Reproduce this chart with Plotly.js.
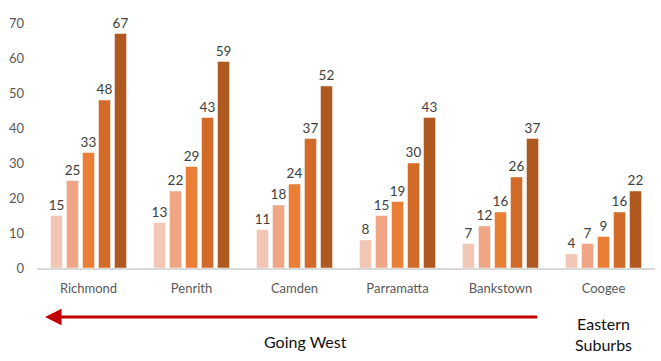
<!DOCTYPE html>
<html>
<head>
<meta charset="utf-8">
<script src="https://cdn.plot.ly/plotly-3.0.1.min.js"></script>
<style>html,body{margin:0;padding:0;background:#fff;}#chart{width:661px;height:361px;}</style>
</head>
<body>
<div id="chart"></div>
<script>
const categories = ["Richmond", "Penrith", "Camden", "Parramatta", "Bankstown", "Coogee"];
const series1 = [15, 13, 11, 8, 7, 4];
const series2 = [25, 22, 18, 15, 12, 7];
const series3 = [33, 29, 24, 19, 16, 9];
const series4 = [48, 43, 37, 30, 26, 16];
const series5 = [67, 59, 52, 43, 37, 22];
const seriesNames = ["Series 1", "Series 2", "Series 3", "Series 4", "Series 5"];
const seriesColors = ["#F2C6B4", "#F0A685", "#EA7E34", "#D26B27", "#AF5920"];
const yTicks = [0, 10, 20, 30, 40, 50, 60, 70];

const allSeries = [series1, series2, series3, series4, series5];
const FONT = "Lato, 'Open Sans', sans-serif";

const traces = allSeries.map((vals, i) => ({
  type: "bar",
  name: seriesNames[i],
  x: categories,
  y: vals,
  marker: { color: seriesColors[i], line: { color: "rgba(255,255,255,0.45)", width: 1 } },
  text: vals.map(String),
  textposition: "outside",
  constraintext: "none",
  cliponaxis: false,
  textfont: { family: FONT, size: 13.5, color: "#404040" },
  hoverinfo: "skip"
}));

const layout = {
  width: 661,
  height: 361,
  margin: { l: 37, r: 6, t: 23, b: 93 },
  paper_bgcolor: "#ffffff",
  plot_bgcolor: "#ffffff",
  showlegend: false,
  barmode: "group",
  bargap: 0.223,
  bargroupgap: 0.25,
  uniformtext: { mode: false },
  font: { family: FONT, color: "#595959" },
  xaxis: {
    type: "category",
    showgrid: false,
    showline: true,
    linecolor: "#D9D9D9",
    linewidth: 1.5,
    ticks: "",
    tickfont: { family: FONT, size: 13, color: "#595959" },
    ticklabelstandoff: 8,
    zeroline: false,
    fixedrange: true
  },
  yaxis: {
    range: [0, 70],
    tickvals: yTicks,
    ticktext: yTicks.map(String),
    showgrid: false,
    showline: false,
    zeroline: false,
    ticks: "",
    tickfont: { family: FONT, size: 13, color: "#595959" },
    ticklabelstandoff: 12,
    fixedrange: true
  },
  annotations: [
    {
      xref: "paper", yref: "paper", axref: "paper", ayref: "paper",
      x: 0.013, y: -0.2, ax: 0.812, ay: -0.2,
      showarrow: true, arrowhead: 2, arrowsize: 1.1, arrowwidth: 3,
      arrowcolor: "#C00000", text: ""
    },
    {
      xref: "paper", yref: "paper",
      x: 0.434, y: -0.302, xanchor: "center", yanchor: "middle", showarrow: false,
      text: "Going West",
      font: { family: FONT, size: 16, color: "#111111" }
    },
    {
      xref: "paper", yref: "paper",
      x: 0.917, y: -0.27, xanchor: "center", yanchor: "middle", showarrow: false,
      text: "Eastern<br>Suburbs",
      align: "center",
      font: { family: FONT, size: 16, color: "#111111" }
    }
  ]
};

Plotly.newPlot("chart", traces, layout, { displayModeBar: false, staticPlot: true });
</script>
</body>
</html>
